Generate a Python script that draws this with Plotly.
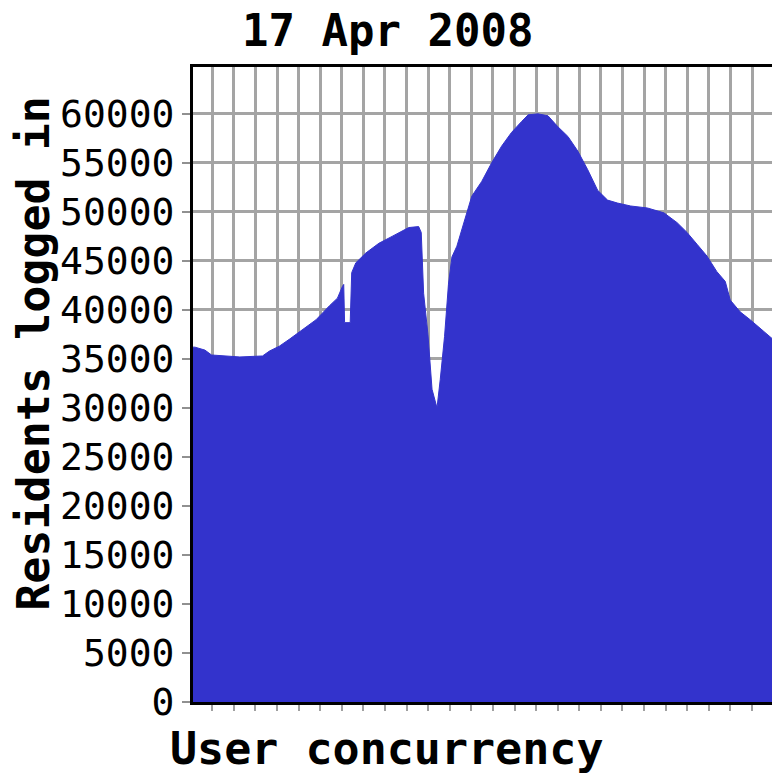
import plotly.graph_objects as go

# x in grid units (one unit per vertical gridline), y = residents logged in
x_pos = [-0.89, -0.80, -0.34, -0.03, 1.28, 2.33, 2.65, 3.11, 3.57, 4.18, 4.81, 5.42, 5.80,
         6.03, 6.09, 6.13, 6.39, 6.46, 6.65, 7.11, 7.72, 8.33, 9.10, 9.56, 9.68, 9.79,
         9.99, 10.18, 10.41, 10.56, 10.76, 10.94, 11.10, 11.33, 11.56, 11.79, 12.02,
         12.48, 12.94, 13.40, 13.86, 14.32, 14.63, 15.09, 15.55, 16.00, 16.47, 16.93,
         17.39, 17.85, 18.31, 18.77, 19.38, 20.15, 20.92, 21.53, 21.99, 22.45, 22.91,
         23.37, 23.76, 23.99, 24.45, 24.91, 25.37, 25.97]
residents = [36200, 36200, 35900, 35400, 35200, 35300, 35800, 36300, 37000, 38000, 39000,
             40400, 41200, 42400, 42600, 38700, 38700, 43800, 44800, 45800, 46800, 47500,
             48400, 48500, 47900, 41700, 37500, 31900, 30000, 32900, 37300, 42600, 45400,
             46500, 48200, 49800, 51600, 53100, 55000, 56700, 58100, 59200, 59900, 60000,
             59800, 58700, 57700, 56200, 54300, 52200, 51200, 50900, 50600, 50400, 49900,
             48900, 47900, 46700, 45500, 43900, 42900, 41000, 39800, 39000, 38100, 37000]

y_ticks = list(range(0, 60001, 5000))

title_text = "17 Apr 2008"
x_title = "User concurrency"
y_title = "Residents logged in"

fig = go.Figure()
fig.add_trace(go.Scatter(
    x=x_pos, y=residents, mode="lines", fill="tozeroy",
    line=dict(color="#3333cc", width=1), fillcolor="#3333cc",
    hoverinfo="skip", showlegend=False,
))

mono = "DejaVu Sans Mono"
# page body has an 8px margin, so the figure is offset by 8px
PW, PH = 583, 635  # plot area size in px
fig.update_layout(
    width=772, height=772,
    margin=dict(l=185, r=4, t=59, b=78, pad=0),
    paper_bgcolor="white", plot_bgcolor="white",
    showlegend=False,
    xaxis=dict(
        range=[-0.89, 25.97], tick0=0, dtick=1, showticklabels=False,
        showgrid=True, gridcolor="#a4a4a4", gridwidth=3,
        ticks="outside", ticklen=6, tickwidth=2, tickcolor="#a0a0a0",
        showline=True, linecolor="black", linewidth=3, mirror=True,
        zeroline=False, fixedrange=True,
    ),
    yaxis=dict(
        range=[0, 64780], tickvals=y_ticks, ticktext=[str(v) for v in y_ticks],
        showgrid=True, gridcolor="#a4a4a4", gridwidth=3,
        ticks="outside", ticklen=8, tickwidth=2, tickcolor="#909090",
        tickfont=dict(family=mono, size=38, color="black"),
        showline=True, linecolor="black", linewidth=3, mirror=True,
        zeroline=False, fixedrange=True,
    ),
    annotations=[
        dict(text="<b>%s</b>" % title_text, xref="paper", yref="paper",
             x=(389 - 193) / PW, y=1 + (67 - 30) / PH, xanchor="center", yanchor="middle",
             showarrow=False, font=dict(family=mono, size=44, color="black")),
        dict(text="<b>%s</b>" % x_title, xref="paper", yref="paper",
             x=(388 - 193) / PW, y=-(748 - 702) / PH, xanchor="center", yanchor="middle",
             showarrow=False, font=dict(family=mono, size=45, color="black")),
        dict(text="<b>%s</b>" % y_title, xref="paper", yref="paper",
             x=-(193 - 32) / PW, y=(702 - 353) / PH, xanchor="center", yanchor="middle",
             showarrow=False, textangle=-90, font=dict(family=mono, size=45, color="black")),
    ],
)

fig.write_html("out.html")
